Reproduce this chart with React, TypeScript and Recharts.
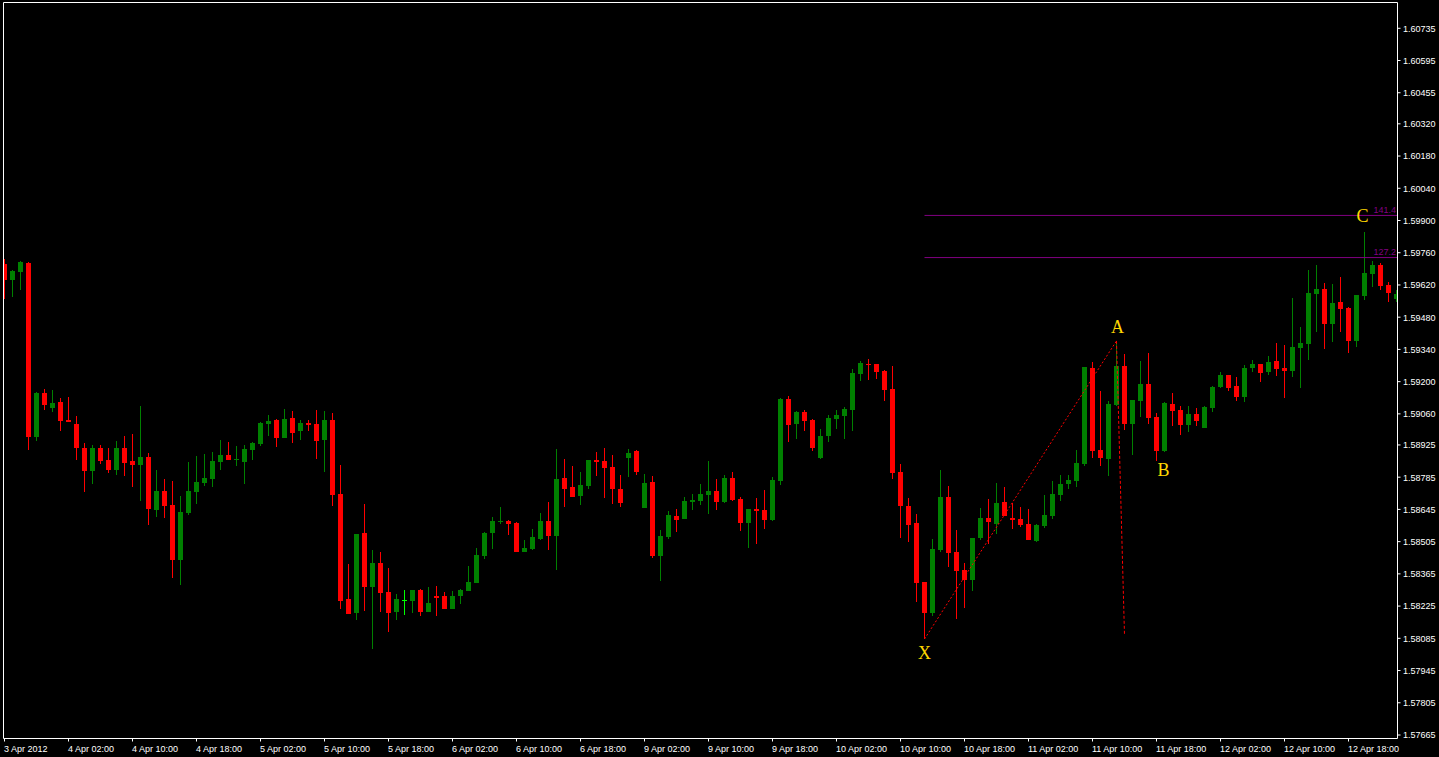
import { ComposedChart, Bar, XAxis, YAxis, ReferenceLine, ReferenceDot } from "recharts";

// hourly GBP/USD candles, 3 Apr 18:00 .. 12 Apr 2012
const tickLabels = [
  "3 Apr 2012", "4 Apr 02:00", "4 Apr 10:00", "4 Apr 18:00", "5 Apr 02:00", "5 Apr 10:00",
  "5 Apr 18:00", "6 Apr 02:00", "6 Apr 10:00", "6 Apr 18:00", "9 Apr 02:00", "9 Apr 10:00",
  "9 Apr 18:00", "10 Apr 02:00", "10 Apr 10:00", "10 Apr 18:00", "11 Apr 02:00", "11 Apr 10:00",
  "11 Apr 18:00", "12 Apr 02:00", "12 Apr 10:00", "12 Apr 18:00",
];

const priceTicks = [
  1.60735, 1.60595, 1.60455, 1.6032, 1.6018, 1.6004, 1.599, 1.5976, 1.5962, 1.5948, 1.5934, 1.592,
  1.5906, 1.58925, 1.58785, 1.58645, 1.58505, 1.58365, 1.58225, 1.58085, 1.57945, 1.57805, 1.57665,
];

const opens = [
  1.59711, 1.59642, 1.59676, 1.59717, 1.5896, 1.59151, 1.59086, 1.59112, 1.59033, 1.59016,
  1.58912, 1.58812, 1.58912, 1.5886, 1.58816, 1.58912, 1.58855, 1.58838, 1.58873, 1.58642,
  1.58725, 1.58664, 1.58425, 1.58629, 1.58721, 1.5876, 1.58777, 1.58851, 1.58881, 1.5886,
  1.58851, 1.58903, 1.58929, 1.59016, 1.59033, 1.58955, 1.59042, 1.58986, 1.5902, 1.59016,
  1.58947, 1.59033, 1.58712, 1.58256, 1.58195, 1.58543, 1.58308, 1.58412, 1.58286, 1.58199,
  1.58251, 1.58247, 1.58293, 1.58199, 1.58269, 1.58269, 1.58213, 1.58269, 1.58291, 1.58325,
  1.58443, 1.58543, 1.5859, 1.58595, 1.58586, 1.5846, 1.58473, 1.58517, 1.58595, 1.5853,
  1.58782, 1.58742, 1.58703, 1.58747, 1.58859, 1.58855, 1.58829, 1.58734, 1.58868, 1.58899,
  1.58651, 1.58764, 1.58443, 1.58525, 1.58616, 1.58603, 1.58677, 1.58682, 1.58708, 1.58725,
  1.58677, 1.58782, 1.5869, 1.58586, 1.58647, 1.58642, 1.58599, 1.58768, 1.59125, 1.59016,
  1.59068, 1.59033, 1.58868, 1.58964, 1.59038, 1.59051, 1.59077, 1.59233, 1.59277, 1.59277,
  1.59246, 1.59168, 1.58808, 1.5866, 1.58586, 1.5833, 1.58195, 1.58469, 1.58699, 1.5846,
  1.58382, 1.58338, 1.5852, 1.58608, 1.58582, 1.58677, 1.58608, 1.58603, 1.58582, 1.58508,
  1.58573, 1.58616, 1.58708, 1.58755, 1.58768, 1.58842, 1.59259, 1.58903, 1.58864, 1.59099,
  1.59268, 1.59016, 1.59116, 1.5919, 1.59047, 1.58899, 1.59103, 1.59077, 1.59012, 1.5906,
  1.58999, 1.59086, 1.59177, 1.59229, 1.59181, 1.59133, 1.59259, 1.59277, 1.59242, 1.5929,
  1.59259, 1.59246, 1.59346, 1.59364, 1.59581, 1.59603, 1.5945, 1.59546, 1.5952, 1.59377,
  1.59572, 1.59668, 1.59707, 1.5962, 1.59559,
];

const highs = [
  1.59733, 1.59685, 1.59724, 1.5972, 1.59154, 1.59168, 1.59164, 1.59129, 1.59133, 1.59051,
  1.58934, 1.58925, 1.58925, 1.58912, 1.58942, 1.58964, 1.58973, 1.59094, 1.5889, 1.58816,
  1.58777, 1.58768, 1.58703, 1.58851, 1.58877, 1.58886, 1.58894, 1.58947, 1.58938, 1.58921,
  1.58925, 1.58938, 1.59025, 1.59055, 1.59038, 1.59081, 1.59073, 1.59033, 1.59033, 1.59077,
  1.59073, 1.59064, 1.58838, 1.58408, 1.58538, 1.58669, 1.58469, 1.5846, 1.58391, 1.58278,
  1.58295, 1.58295, 1.58299, 1.58308, 1.58312, 1.58286, 1.58291, 1.58299, 1.58399, 1.58477,
  1.58547, 1.58612, 1.58656, 1.58599, 1.5859, 1.58512, 1.5856, 1.58629, 1.58677, 1.58907,
  1.58864, 1.58834, 1.58808, 1.5886, 1.58894, 1.58912, 1.58881, 1.58795, 1.58907, 1.58903,
  1.58799, 1.5879, 1.58556, 1.58638, 1.58647, 1.58699, 1.58712, 1.58755, 1.58855, 1.58777,
  1.58795, 1.58808, 1.58699, 1.58647, 1.58695, 1.58729, 1.58786, 1.59129, 1.59138, 1.59073,
  1.59077, 1.59038, 1.58994, 1.59055, 1.59077, 1.5909, 1.59255, 1.5929, 1.59298, 1.59278,
  1.5925, 1.59268, 1.58842, 1.58695, 1.58625, 1.58331, 1.58517, 1.58816, 1.58747, 1.58556,
  1.58412, 1.58521, 1.58651, 1.5869, 1.5876, 1.58742, 1.58673, 1.58656, 1.58647, 1.58582,
  1.58708, 1.58768, 1.58795, 1.58795, 1.58903, 1.59264, 1.59285, 1.59159, 1.59116, 1.59377,
  1.5932, 1.5912, 1.5929, 1.59324, 1.59064, 1.59112, 1.59151, 1.59094, 1.59094, 1.59086,
  1.59094, 1.59181, 1.59242, 1.5923, 1.5922, 1.59272, 1.59294, 1.59278, 1.59311, 1.59368,
  1.59359, 1.59563, 1.59437, 1.59685, 1.59707, 1.59629, 1.59624, 1.59655, 1.59524, 1.59576,
  1.5985, 1.59724, 1.59715, 1.59633, 1.59598,
];

const lows = [
  1.59559, 1.59568, 1.59598, 1.58903, 1.58942, 1.59077, 1.59068, 1.58986, 1.59024, 1.5886,
  1.58721, 1.58755, 1.58842, 1.58803, 1.58795, 1.5879, 1.58742, 1.58682, 1.58577, 1.58612,
  1.58608, 1.58347, 1.58317, 1.58621, 1.58669, 1.58747, 1.58742, 1.58816, 1.58859, 1.58834,
  1.58755, 1.5886, 1.58921, 1.58964, 1.58916, 1.58954, 1.58934, 1.58947, 1.58986, 1.58864,
  1.58808, 1.5866, 1.58212, 1.5819, 1.58165, 1.58204, 1.58039, 1.58199, 1.58113, 1.58165,
  1.58186, 1.58195, 1.58182, 1.58198, 1.58182, 1.58212, 1.58212, 1.58234, 1.5829, 1.58324,
  1.5843, 1.58473, 1.58582, 1.58534, 1.58459, 1.58459, 1.58469, 1.58512, 1.58469, 1.58382,
  1.58656, 1.58698, 1.58664, 1.58734, 1.5879, 1.58695, 1.58669, 1.58656, 1.58786, 1.58795,
  1.5865, 1.58434, 1.58334, 1.58517, 1.58547, 1.58602, 1.58642, 1.58664, 1.58625, 1.58642,
  1.58673, 1.58682, 1.58551, 1.58477, 1.58495, 1.5856, 1.58595, 1.58751, 1.58938, 1.58951,
  1.58986, 1.58899, 1.58864, 1.58938, 1.58994, 1.58951, 1.58986, 1.59203, 1.59207, 1.59212,
  1.59116, 1.58777, 1.58521, 1.58504, 1.58243, 1.58082, 1.58182, 1.5846, 1.58395, 1.58169,
  1.58217, 1.58291, 1.58512, 1.58495, 1.58538, 1.58615, 1.5856, 1.58569, 1.58511, 1.58504,
  1.58564, 1.58603, 1.58682, 1.58734, 1.58742, 1.58834, 1.58868, 1.58834, 1.5879, 1.59094,
  1.5899, 1.58881, 1.59047, 1.59016, 1.58855, 1.58894, 1.59007, 1.58968, 1.58981, 1.59007,
  1.58998, 1.59068, 1.59172, 1.59159, 1.59116, 1.59112, 1.59242, 1.59199, 1.59229, 1.59225,
  1.59129, 1.5922, 1.59172, 1.59294, 1.59416, 1.59342, 1.59372, 1.59416, 1.59324, 1.59351,
  1.59555, 1.59611, 1.59598, 1.59546, 1.59546,
];

const closes = [
  1.59642, 1.59681, 1.5972, 1.5896, 1.59151, 1.59099, 1.59107, 1.59029, 1.59025, 1.58912,
  1.58812, 1.58912, 1.58855, 1.58816, 1.58912, 1.58847, 1.58838, 1.58873, 1.58647, 1.58725,
  1.5866, 1.58425, 1.58634, 1.58725, 1.58764, 1.58782, 1.58855, 1.58881, 1.5886, 1.58864,
  1.58907, 1.58934, 1.5902, 1.59029, 1.58955, 1.59038, 1.58977, 1.5902, 1.59012, 1.58942,
  1.59033, 1.58708, 1.58247, 1.58191, 1.58538, 1.58308, 1.58412, 1.58282, 1.58195, 1.58256,
  1.58251, 1.58293, 1.58199, 1.58238, 1.5826, 1.58213, 1.58269, 1.58295, 1.5833, 1.58447,
  1.58543, 1.58595, 1.58595, 1.58582, 1.5846, 1.58477, 1.58525, 1.58595, 1.5853, 1.58777,
  1.58734, 1.58699, 1.58751, 1.58859, 1.58851, 1.58825, 1.58734, 1.58673, 1.5889, 1.58808,
  1.5876, 1.58443, 1.5853, 1.58621, 1.58599, 1.58682, 1.58686, 1.58712, 1.58725, 1.58677,
  1.58782, 1.58686, 1.58586, 1.58647, 1.58638, 1.58599, 1.58773, 1.59125, 1.59012, 1.59068,
  1.59029, 1.58912, 1.58964, 1.59042, 1.59055, 1.59081, 1.59238, 1.59281, 1.59272, 1.59242,
  1.59164, 1.58803, 1.5866, 1.58577, 1.58325, 1.58195, 1.58473, 1.58699, 1.58456, 1.58378,
  1.58338, 1.5852, 1.58608, 1.5859, 1.58673, 1.58616, 1.58599, 1.58577, 1.58512, 1.58577,
  1.58621, 1.58712, 1.58755, 1.58773, 1.58847, 1.59263, 1.58899, 1.58868, 1.59103, 1.59268,
  1.59016, 1.59119, 1.5919, 1.59042, 1.58899, 1.59107, 1.59073, 1.59012, 1.5906, 1.59029,
  1.5909, 1.59177, 1.59229, 1.59172, 1.59133, 1.59259, 1.59277, 1.59238, 1.59285, 1.59255,
  1.59246, 1.59351, 1.59368, 1.59585, 1.59603, 1.5945, 1.59542, 1.59516, 1.59377, 1.59575,
  1.59672, 1.59707, 1.59616, 1.59585, 1.59581,
];

// fibo extension levels drawn from X
const fibLevels = [
  { name: "141.4", price: 1.59922 },
  { name: "127.2", price: 1.59739 },
];

// XABC pattern points (bar index, price, text offset in px)
const pattern = [
  { name: "X", i: 115, price: 1.58082, dx: 0, dy: 20 },
  { name: "A", i: 139, price: 1.59377, dx: 1, dy: -8 },
  { name: "B", i: 145, price: 1.58855, dx: -1, dy: 14.5 },
  { name: "C", i: 170, price: 1.5985, dx: -2, dy: -10 },
];
const legEnd = { i: 140, price: 1.58099 };

const XMIN = -0.125;
const XMAX = 174.125;
const YMIN = 1.576498;
const YMAX = 1.60847;
const FONT = "'Liberation Sans', Arial, sans-serif";

const candles = opens.map((o, i) => ({ i, open: o, high: highs[i], low: lows[i], close: closes[i] }));
const tickIdx = tickLabels.map((_, k) => k * 8);

function Candle(props: any) {
  const { x, y, width, height, payload } = props;
  if (x == null || payload == null) return null;
  const top = Math.min(y, y + height);
  const bottom = Math.max(y, y + height);
  const range = payload.high - payload.low;
  const toY = (v: number) => (range > 0 ? top + ((payload.high - v) / range) * (bottom - top) : top);
  const col = Math.round(x + width / 2 - 0.25);
  const color =
    payload.open === payload.close ? "#00ff00" : payload.close > payload.open ? "#008000" : "#ff0000";
  const yo = toY(payload.open);
  const yc = toY(payload.close);
  const bTop = Math.round(Math.min(yo, yc));
  const bH = Math.max(1, Math.round(Math.max(yo, yc)) - bTop);
  const wTop = Math.round(top);
  return (
    <g>
      <rect x={col} y={wTop} width={1} height={Math.max(1, Math.round(bottom) - wTop)} fill={color} />
      <rect x={col - 2} y={bTop} width={5} height={bH} fill={color} />
    </g>
  );
}

function XTick(props: any) {
  const { x, y, payload } = props;
  return (
    <text x={x - 0.5} y={y + 10} fill="#fff" fontSize={9} fontFamily={FONT} textAnchor="start">
      {tickLabels[Math.round(payload.value / 8)]}
    </text>
  );
}

function YTick(props: any) {
  const { x, y, payload } = props;
  return (
    <text x={x + 2.5} y={y + 3.4} fill="#fff" fontSize={9} fontFamily={FONT} textAnchor="start">
      {Number(payload.value).toFixed(5)}
    </text>
  );
}

export default function App() {
  const xPt = pattern[0];
  const aPt = pattern[1];
  return (
    <div style={{ position: "absolute", left: 0, top: 0, width: 1439, height: 757, background: "#000" }}>
      <ComposedChart
        width={1439}
        height={757}
        data={candles}
        margin={{ top: 2.5, right: 0, bottom: 0, left: 3.5 }}
      >
        <XAxis
          dataKey="i"
          type="number"
          domain={[XMIN, XMAX]}
          allowDataOverflow
          ticks={tickIdx}
          interval={0}
          height={18.5}
          stroke="#fff"
          tickSize={3}
          tickMargin={0}
          tick={<XTick />}
        />
        <YAxis
          orientation="right"
          type="number"
          domain={[YMIN, YMAX]}
          allowDataOverflow
          ticks={priceTicks}
          interval={0}
          width={41.5}
          stroke="#fff"
          tickSize={3}
          tickMargin={0}
          tick={<YTick />}
        />

        {/* chart frame */}
        <ReferenceLine x={XMIN} stroke="#fff" ifOverflow="visible" />
        <ReferenceLine y={YMAX} stroke="#fff" ifOverflow="visible" />

        {/* fibo levels */}
        {fibLevels.map((f) => (
          <ReferenceLine
            key={f.name}
            segment={[{ x: xPt.i, y: f.price }, { x: XMAX, y: f.price }]}
            stroke="#800080"
            ifOverflow="visible"
          />
        ))}

        <Bar
          dataKey={(d: any) => [d.low, d.high]}
          barSize={5}
          isAnimationActive={false}
          shape={<Candle />}
        />

        {/* XA leg and A drop line */}
        <ReferenceLine
          segment={[{ x: xPt.i, y: xPt.price }, { x: aPt.i, y: aPt.price }]}
          stroke="#ff0000"
          strokeDasharray="2 2"
          ifOverflow="visible"
        />
        <ReferenceLine
          segment={[{ x: aPt.i, y: aPt.price }, { x: legEnd.i, y: legEnd.price }]}
          stroke="#ff0000"
          strokeDasharray="3 2"
          ifOverflow="visible"
        />

        {fibLevels.map((f) => (
          <ReferenceDot
            key={"t" + f.name}
            x={XMAX}
            y={f.price}
            r={0}
            ifOverflow="visible"
            shape={(s: any) => (
              <text x={s.cx - 1.5} y={s.cy - 2.5} fill="#800080" fontSize={9} fontFamily={FONT} textAnchor="end">
                {f.name}
              </text>
            )}
          />
        ))}

        {pattern.map((p) => (
          <ReferenceDot
            key={p.name}
            x={p.i}
            y={p.price}
            r={0}
            ifOverflow="visible"
            shape={(s: any) => (
              <text
                x={s.cx + p.dx}
                y={s.cy + p.dy}
                fill="#FFD700"
                fontSize={18}
                fontFamily="'Liberation Serif', 'Times New Roman', serif"
                textAnchor="middle"
              >
                {p.name}
              </text>
            )}
          />
        ))}
      </ComposedChart>
    </div>
  );
}
